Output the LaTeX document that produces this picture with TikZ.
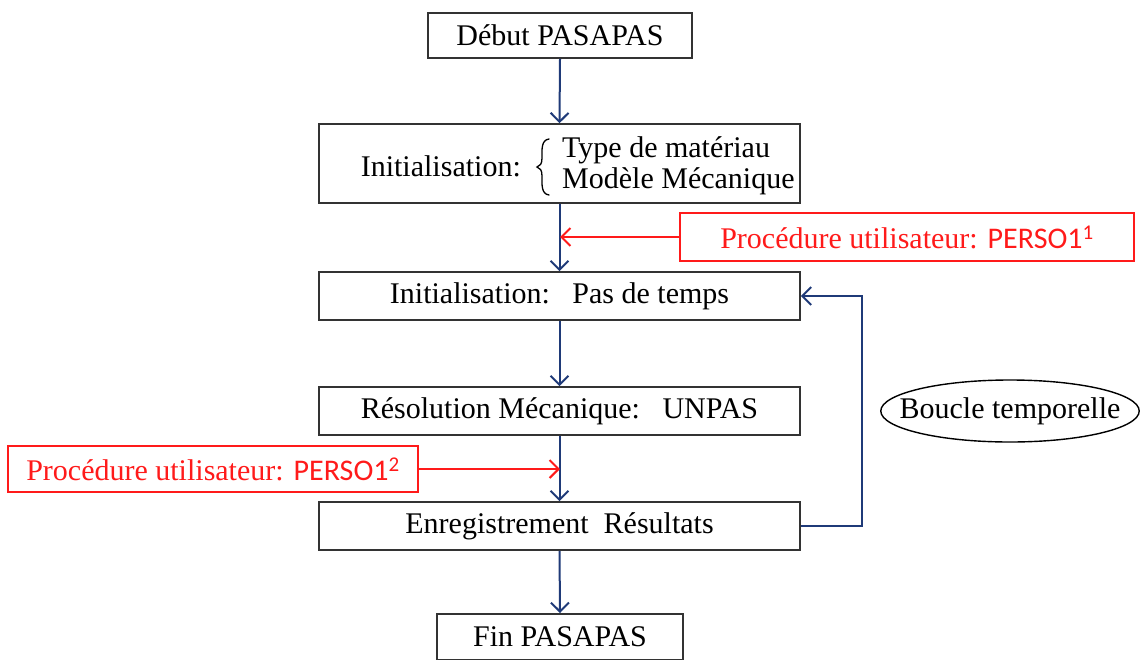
\documentclass[tikz,border=0pt]{standalone}
\usepackage{fontspec}
\setmainfont{Liberation Serif}
\newfontfamily\calfont{Carlito}
\usetikzlibrary{arrows.meta,shapes.geometric}
\definecolor{navy}{HTML}{1F3A78}
\definecolor{redp}{HTML}{FF1A1A}
\tikzset{
  stepbox/.style={draw=black!80, line width=1.6pt, rectangle, inner sep=0pt, font=\fontsize{30}{34}\selectfont},
  persobox/.style={draw=redp, line width=1.6pt, rectangle, inner sep=0pt, text=redp, font=\fontsize{30}{34}\selectfont},
  flow/.style={draw=navy, line width=2pt, -{Straight Barb[length=9pt,width=18pt,line width=2pt]}},
  redflow/.style={draw=redp, line width=2pt, -{Straight Barb[length=9pt,width=18pt,line width=2pt]}},
}
\begin{document}
\begin{tikzpicture}[x=1pt,y=-1pt]
\useasboundingbox (0,0) rectangle (1140,659);
\node[stepbox, minimum width=264pt, minimum height=45pt] (debut) at (560,35.5) {Début PASAPAS};
\node[stepbox, minimum width=481pt, minimum height=79pt] (init) at (559.5,163.5) {};
\node[font=\fontsize{30}{34}\selectfont, anchor=east, inner sep=0pt] (initlbl) at (521,166) {Initialisation:};
\node[font=\fontsize{30}{34}\selectfont, anchor=west, inner sep=0pt, align=left] (initlist) at (562,166) {Type de matériau\\[-3pt]Modèle Mécanique};
\draw[line width=1.3pt, line cap=round] (549,139) .. controls (541,140) and (542,150) .. (542,158) .. controls (542,164) and (540,166) .. (537,167) .. controls (540,168) and (542,170) .. (542,176) .. controls (542,184) and (541,194) .. (549,195);
\node[stepbox, minimum width=481pt, minimum height=48pt] (pas) at (559.5,296) {Initialisation:\ \ \ Pas de temps};
\node[stepbox, minimum width=481pt, minimum height=48pt] (reso) at (559.5,411) {Résolution Mécanique:\ \ \ UNPAS};
\node[stepbox, minimum width=481pt, minimum height=48pt] (enreg) at (559.5,526) {Enregistrement\ \ Résultats};
\node[stepbox, minimum width=246pt, minimum height=46pt, anchor=north] (fin) at (560,613) {Fin PASAPAS};
\node[persobox, minimum width=454pt, minimum height=48pt] (p1) at (907,237) {Procédure utilisateur: {\calfont PERSO1\textsuperscript{1}}};
\node[persobox, minimum width=410pt, minimum height=46pt] (p2) at (213,469) {Procédure utilisateur: {\calfont PERSO1\textsuperscript{2}}};
\node[draw=black, line width=1.4pt, ellipse, minimum width=258pt, minimum height=62pt, inner xsep=-19pt, inner ysep=3pt, font=\fontsize{30}{34}\selectfont] (boucle) at (1010,411) {Boucle temporelle};
\coordinate (m1) at (560,237);
\coordinate (m2) at (560,469);
\draw[flow] (debut.south) -- (init.north);
\draw[flow] (init.south) -- (pas.north);
\draw[flow] (pas.south) -- (reso.north);
\draw[flow] (reso.south) -- (enreg.north);
\draw[flow] (enreg.south) -- (fin.north);
\draw[redflow] (p1.west) -- (m1);
\draw[redflow] (p2.east) -- (m2);
\draw[flow] (enreg.east) -- (862,526) -- (862,296) -- (pas.east);
\end{tikzpicture}
\end{document}
